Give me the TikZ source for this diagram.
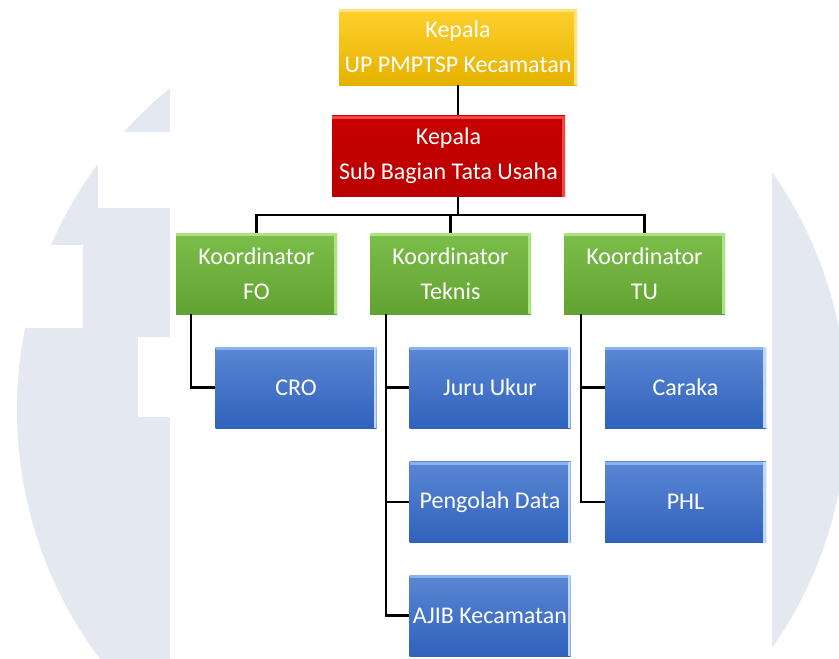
\documentclass[tikz,border=0pt]{standalone}
\usepackage{fontspec}
\setmainfont{Carlito}
\definecolor{wm}{RGB}{228,232,240}
\definecolor{ytop}{RGB}{255,208,45}
\definecolor{ybot}{RGB}{230,178,0}
\definecolor{yhi}{RGB}{255,226,120}
\definecolor{rtop}{RGB}{200,0,0}
\definecolor{rbot}{RGB}{185,0,0}
\definecolor{rhi}{RGB}{245,70,70}
\definecolor{gtop}{RGB}{124,190,74}
\definecolor{gbot}{RGB}{98,162,50}
\definecolor{ghi}{RGB}{172,226,128}
\definecolor{btop}{RGB}{90,134,212}
\definecolor{bbot}{RGB}{48,98,188}
\definecolor{bhi}{RGB}{140,178,235}
\definecolor{bri}{RGB}{190,215,250}
\tikzset{
  orgbox/.style={inner sep=0pt, text=white, align=center,
    font=\fontsize{24}{35}\selectfont},
  bevel/.style 2 args={path picture={
    \fill[#1] (path picture bounding box.north west) rectangle ([yshift=-3pt]path picture bounding box.north east);
    \fill[#2] ([xshift=-3pt]path picture bounding box.north east) rectangle (path picture bounding box.south east);}},
  yellowbox/.style={orgbox, top color=ytop, bottom color=ybot, bevel={yhi}{yhi}},
  redbox/.style={orgbox, top color=rtop, bottom color=rbot, bevel={rhi}{rhi}},
  greenbox/.style={orgbox, top color=gtop, bottom color=gbot, bevel={ghi}{ghi},
    minimum width=161pt, minimum height=81pt},
  bluebox/.style={orgbox, top color=btop, bottom color=bbot, bevel={bhi}{bri},
    minimum width=161pt, minimum height=81pt},
  conn/.style={draw=black, line width=2.4pt, line join=miter}
}
\begin{document}
\begin{tikzpicture}[x=1pt,y=-1pt]
\useasboundingbox (0,0) rectangle (839,659);
\fill[white] (0,0) rectangle (839,659);
% watermark
\begin{scope}
  \clip (0,0) rectangle (839,659);
  \fill[wm] (432,410) circle[radius=415];
  \fill[white] (0,132) rectangle (170,165);
  \fill[white] (98,165) rectangle (170,208);
  \fill[white] (0,245) rectangle (83,328);
  \fill[white] (138,337) rectangle (170,417);
  \fill[white] (170,0) rectangle (772,659);
\end{scope}
% boxes
\node[yellowbox, minimum width=238pt, minimum height=76pt] (kepala) at (458,47) {Kepala\\UP PMPTSP Kecamatan};
\node[redbox, minimum width=233pt, minimum height=81pt] (subbag) at (448.5,156) {Kepala\\Sub Bagian Tata Usaha};
\node[greenbox] (fo) at (256.5,273.5) {Koordinator\\FO};
\node[greenbox] (teknis) at (450.5,273.5) {Koordinator\\Teknis};
\node[greenbox] (tu) at (644.5,273.5) {Koordinator\\TU};
\node[bluebox] (cro) at (296,387.5) {CRO};
\node[bluebox] (juru) at (490,387.5) {Juru Ukur};
\node[bluebox] (caraka) at (685.5,387.5) {Caraka};
\node[bluebox] (olah) at (490,502) {Pengolah Data};
\node[bluebox] (phl) at (685.5,502) {PHL};
\node[bluebox] (ajib) at (490,615.5) {AJIB Kecamatan};
% connectors
\coordinate (bus) at (458,215);
\draw[conn] (kepala.south) -- (kepala.south |- subbag.north);
\draw[conn] (bus |- subbag.south) -- (bus);
\draw[conn] (fo.north) |- (bus) -| (tu.north);
\draw[conn] (teknis.north) -- (teknis.north |- bus);
\coordinate (fot) at ([xshift=15pt]fo.south west);
\coordinate (tkt) at ([xshift=16pt]teknis.south west);
\coordinate (tut) at ([xshift=17pt]tu.south west);
\draw[conn] (fot) |- (cro.west);
\draw[conn] (tkt) |- (ajib.west);
\draw[conn] (tkt |- juru.west) -- (juru.west);
\draw[conn] (tkt |- olah.west) -- (olah.west);
\draw[conn] (tut) |- (phl.west);
\draw[conn] (tut |- caraka.west) -- (caraka.west);
\end{tikzpicture}
\end{document}
